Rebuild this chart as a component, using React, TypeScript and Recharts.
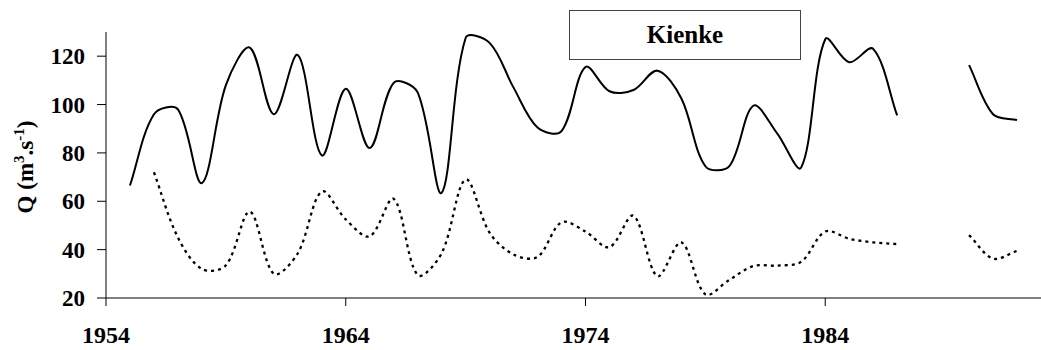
import { LineChart, Line, XAxis, YAxis } from 'recharts'

const years = [
  1955, 1956, 1957, 1958, 1959, 1960, 1961, 1962, 1963, 1964,
  1965, 1966, 1967, 1968, 1969, 1970, 1971, 1972, 1973, 1974,
  1975, 1976, 1977, 1978, 1979, 1980, 1981, 1982, 1983, 1984,
  1985, 1986, 1987, 1988, 1989, 1990, 1991, 1992,
]

// mean discharge (solid)
const qMean = [
  66.5, 96, 98, 67.5, 108, 123.5, 96, 120.5, 79, 106.5,
  82, 109, 105, 63.5, 127.5, 125.5, 107, 90.5, 89, 115.5,
  105.5, 106, 114, 102.5, 74.5, 74.5, 99.5, 88, 74, 127,
  117.5, 123, 95.5, null, null, 116.3, 96, 93.6,
]

// low-flow discharge (dotted)
const qMin = [
  null, 72, 45, 32, 33.5, 55.7, 30, 38.5, 64, 52.5,
  45.5, 61, 29.5, 38.5, 69, 47, 38, 37, 51.3, 47.5,
  41, 54, 29, 43, 21.5, 27.5, 33.2, 33.4, 35, 47.5,
  44.5, 43, 42.3, null, null, 46, 36.3, 39.5,
]

const xTicks = [1954, 1964, 1974, 1984]
const yTicks = [20, 40, 60, 80, 100, 120]

const data = years.map((year, i) => ({ year, mean: qMean[i], low: qMin[i] }))

const FONT = 'Liberation Serif, Times New Roman, DejaVu Serif, serif'

// Excel-like smoothed line: Catmull-Rom tangents scaled by segment lengths
function smoothCurve(context: any) {
  let pts: number[][] = []
  const dist = (a: number[], b: number[]) => Math.hypot(b[0] - a[0], b[1] - a[1])
  return {
    areaStart() {},
    areaEnd() {},
    lineStart() {
      pts = []
    },
    point(x: number, y: number) {
      pts.push([+x, +y])
    },
    lineEnd() {
      if (!pts.length) return
      context.moveTo(pts[0][0], pts[0][1])
      for (let i = 0; i < pts.length - 1; i++) {
        const p0 = pts[i - 1] || pts[i]
        const p1 = pts[i]
        const p2 = pts[i + 1]
        const p3 = pts[i + 2] || p2
        const d01 = dist(p0, p1)
        const d12 = dist(p1, p2)
        const d23 = dist(p2, p3)
        const k1 = d01 + d12 > 0 ? d12 / (d01 + d12) / 3 : 0
        const k2 = d12 + d23 > 0 ? d12 / (d12 + d23) / 3 : 0
        context.bezierCurveTo(
          p1[0] + (p2[0] - p0[0]) * k1,
          p1[1] + (p2[1] - p0[1]) * k1,
          p2[0] - (p3[0] - p1[0]) * k2,
          p2[1] - (p3[1] - p1[1]) * k2,
          p2[0],
          p2[1],
        )
      }
    },
  }
}

const XTick = ({ x, y, payload }: any) => (
  <text x={x} y={y} dy={35} textAnchor="middle" fontFamily={FONT} fontWeight="bold" fontSize={24} fill="#000">
    {payload.value}
  </text>
)

const YTick = ({ x, y, payload }: any) => (
  <text x={x} y={y} dy={8} textAnchor="end" fontFamily={FONT} fontWeight="bold" fontSize={23} fill="#000">
    {payload.value}
  </text>
)

const YLabel = () => (
  <text transform="translate(33,167) rotate(-90)" textAnchor="middle" fontFamily={FONT} fontWeight="bold" fontSize={23} fill="#000">
    Q (m
    <tspan dy={-9} fontSize={15}>3</tspan>
    <tspan dy={9}>.s</tspan>
    <tspan dy={-9} fontSize={15}>-1</tspan>
    <tspan dy={9}>)</tspan>
  </text>
)

export default function App() {
  return (
    <div style={{ position: 'absolute', left: 0, top: 0, width: 1041, height: 350, background: '#fff', fontFamily: FONT }}>
      <LineChart width={1041} height={350} data={data} margin={{ top: 32, right: 0, left: 0, bottom: 0 }}>
        <XAxis
          dataKey="year"
          type="number"
          domain={[1954, 1993]}
          ticks={xTicks}
          tickSize={8}
          tickMargin={2}
          height={52}
          axisLine={{ stroke: '#000' }}
          tickLine={{ stroke: '#000' }}
          tick={<XTick />}
          allowDataOverflow
        />
        <YAxis
          type="number"
          domain={[20, 130]}
          ticks={yTicks}
          width={106}
          tickSize={9}
          tickMargin={12}
          axisLine={{ stroke: '#000' }}
          tickLine={{ stroke: '#000' }}
          tick={<YTick />}
          label={{ content: <YLabel /> }}
          allowDataOverflow
        />
        <Line
          dataKey="mean"
          type={smoothCurve as any}
          stroke="#000"
          strokeWidth={2}
          dot={false}
          isAnimationActive={false}
        />
        <Line
          dataKey="low"
          type={smoothCurve as any}
          stroke="#000"
          strokeWidth={2.3}
          strokeDasharray="3 4"
          dot={false}
          isAnimationActive={false}
        />
      </LineChart>
      <div
        style={{
          position: 'absolute',
          left: 569,
          top: 10,
          width: 230,
          height: 48,
          border: '1px solid #444',
          background: '#fff',
          display: 'flex',
          alignItems: 'center',
          justifyContent: 'center',
          fontFamily: FONT,
          fontWeight: 'bold',
          fontSize: 25,
        }}
      >
        Kienke
      </div>
    </div>
  )
}
